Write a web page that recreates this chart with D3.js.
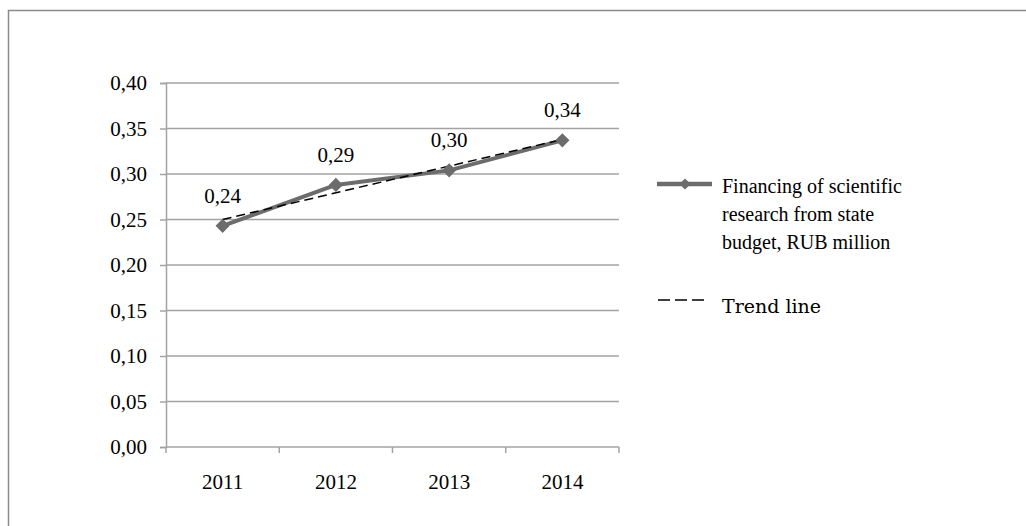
<!DOCTYPE html>
<html>
<head>
<meta charset="utf-8">
<script src="https://cdn.jsdelivr.net/npm/d3@7"></script>
<style>
  html, body { margin: 0; padding: 0; background: #fff; }
  svg { display: block; }
</style>
</head>
<body>
<svg id="chart" width="1026" height="526"></svg>
<script>
// ---- data ----
const years = ["2011", "2012", "2013", "2014"];
const financing = [0.243, 0.288, 0.304, 0.337];
const dataLabels = ["0,24", "0,29", "0,30", "0,34"];
const trendYears = ["2011", "2014"];
const trendValues = [0.250, 0.338];
const yTicks = [0, 0.05, 0.10, 0.15, 0.20, 0.25, 0.30, 0.35, 0.40];
const seriesName = ["Financing of scientific", "research from state", "budget, RUB million"];
const trendName = "Trend line";

// ---- layout ----
const svg = d3.select("#chart");
const plot = { left: 166, right: 619, top: 83, bottom: 447 };
const serif = "'Liberation Serif', 'Times New Roman', serif";
const gridColor = "#a3a3a3";
const lineColor = "#6c6c6c";

// outer frame (bottom/right cropped off)
svg.append("rect")
  .attr("x", 8.5).attr("y", 10.5)
  .attr("width", 1100).attr("height", 600)
  .attr("fill", "none").attr("stroke", "#8c8c8c").attr("stroke-width", 1.5);

const x = d3.scaleBand().domain(years).range([plot.left, plot.right]).paddingInner(0).paddingOuter(0);
const y = d3.scaleLinear().domain([0, 0.40]).range([plot.bottom, plot.top]);
const cx = d => x(d) + x.bandwidth() / 2;
const fmt = v => d3.format(".2f")(v).replace(".", ",");

// gridlines
svg.append("g").selectAll("line").data(yTicks.filter(t => t > 0)).join("line")
  .attr("x1", plot.left).attr("x2", plot.right)
  .attr("y1", d => y(d)).attr("y2", d => y(d))
  .attr("stroke", gridColor).attr("stroke-width", 1.5);

// y axis
const yAxis = svg.append("g").attr("transform", `translate(${plot.left},0)`)
  .call(d3.axisLeft(y).tickValues(yTicks).tickFormat(fmt).tickSize(6).tickPadding(13));
yAxis.select(".domain").attr("stroke", gridColor).attr("stroke-width", 1.5);
yAxis.selectAll(".tick line").attr("stroke", gridColor).attr("stroke-width", 1.5);
yAxis.selectAll(".tick text").attr("font-family", serif).attr("font-size", 21).attr("fill", "#000");

// x axis: ticks at category boundaries
const xAxis = svg.append("g").attr("transform", `translate(0,${plot.bottom})`);
xAxis.append("line").attr("x1", plot.left).attr("x2", plot.right)
  .attr("stroke", gridColor).attr("stroke-width", 1.5);
const bounds = years.map(d => x(d)).concat([x(years[years.length - 1]) + x.bandwidth()]);
xAxis.selectAll("line.tk").data(bounds).join("line").attr("class", "tk")
  .attr("x1", d => d).attr("x2", d => d).attr("y1", 0).attr("y2", 6)
  .attr("stroke", gridColor).attr("stroke-width", 1.5);
xAxis.selectAll("text").data(years).join("text")
  .attr("x", d => cx(d)).attr("y", 42)
  .attr("text-anchor", "middle")
  .attr("font-family", serif).attr("font-size", 21).attr("fill", "#000")
  .text(d => d);

// series line
const pts = years.map((d, i) => [cx(d), y(financing[i])]);
svg.append("path")
  .attr("d", d3.line()(pts))
  .attr("fill", "none").attr("stroke", lineColor).attr("stroke-width", 4)
  .attr("stroke-linejoin", "round");

// trend line
const tpts = trendYears.map((d, i) => [cx(d), y(trendValues[i])]);
svg.append("path")
  .attr("d", d3.line()(tpts))
  .attr("fill", "none").attr("stroke", "#000").attr("stroke-width", 1.5)
  .attr("stroke-dasharray", "9,5");

// markers
const diamond = d3.symbol().type(d3.symbolDiamond2).size(128);
svg.append("g").selectAll("path").data(pts).join("path")
  .attr("transform", d => `translate(${d[0]},${d[1]})`)
  .attr("d", diamond).attr("fill", lineColor);

// data labels
svg.append("g").selectAll("text").data(pts).join("text")
  .attr("x", d => d[0]).attr("y", d => d[1] - 23)
  .attr("text-anchor", "middle")
  .attr("font-family", serif).attr("font-size", 21).attr("fill", "#000")
  .text((d, i) => dataLabels[i]);

// legend
const lg = svg.append("g");
lg.append("line").attr("x1", 657).attr("x2", 712).attr("y1", 184).attr("y2", 184)
  .attr("stroke", lineColor).attr("stroke-width", 4.5);
lg.append("path").attr("transform", "translate(685,184)")
  .attr("d", d3.symbol().type(d3.symbolDiamond2).size(80)).attr("fill", lineColor);
lg.append("text").attr("x", 722).attr("y", 193)
  .attr("font-family", serif).attr("font-size", 20).attr("fill", "#000")
  .selectAll("tspan").data(seriesName).join("tspan")
  .attr("x", 722).attr("dy", (d, i) => i === 0 ? 0 : 28).text(d => d);

lg.append("line").attr("x1", 658).attr("x2", 704).attr("y1", 300).attr("y2", 300)
  .attr("stroke", "#000").attr("stroke-width", 1.5).attr("stroke-dasharray", "12,5");
lg.append("text").attr("x", 722).attr("y", 313)
  .attr("font-family", "'DejaVu Serif', serif").attr("font-size", 19).attr("fill", "#000")
  .text(trendName);
</script>
</body>
</html>
